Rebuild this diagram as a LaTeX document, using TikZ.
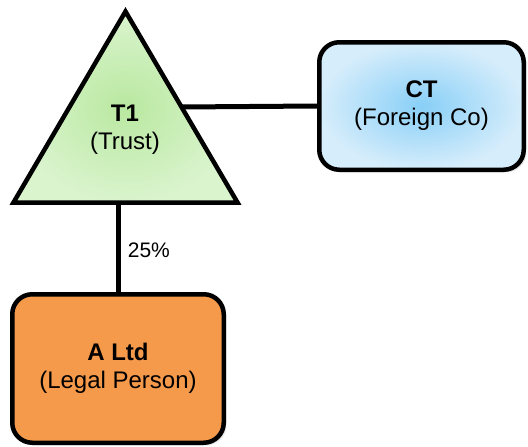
\documentclass[tikz,border=0pt]{standalone}
\usepackage{fontspec}
\setmainfont{Liberation Sans}
\usetikzlibrary{calc}
\usetikzlibrary{shadows}

\definecolor{trustin}{HTML}{B9E8A0}
\definecolor{trustout}{HTML}{DAF4CE}
\definecolor{coin}{HTML}{88CFF7}
\definecolor{coout}{HTML}{D6EDFB}
\definecolor{legal}{HTML}{F5994A}

\begin{document}
\begin{tikzpicture}[x=1pt,y=-1pt,
    box/.style={draw, line width=4.5pt, rounded corners=20pt, align=center,
        font=\fontsize{24}{28}\selectfont, drop shadow={opacity=0.2}},
    link/.style={line width=5pt}]
    \useasboundingbox (0,0) rectangle (528,447);
    \coordinate (t1top) at (125.5,11.5);
    \coordinate (t1left) at (13.5,202.5);
    \coordinate (t1right) at (237.5,202.5);
    % trust triangle
    \draw[line width=4.5pt, inner color=trustin, outer color=trustout, drop shadow={opacity=0.2}]
        (t1top) -- (t1right) -- (t1left) -- cycle;
    \node[align=center, font=\fontsize{24}{28}\selectfont] (t1) at (125,130) {\textbf{T1}\\(Trust)};
    \node[box, minimum width=204.5pt, minimum height=127.5pt, inner color=coin, outer color=coout]
        (ct) at (421.5,106) {\textbf{CT}\\(Foreign Co)};
    \node[box, minimum width=211.5pt, minimum height=148.5pt, fill=legal]
        (altd) at (118,368.5) {\textbf{A Ltd}\\(Legal Person)};
    \draw[link] ($(t1top)!0.5!(t1right)$) -- (ct.west);
    \draw[link] (altd.north) -- (altd.north |- t1left)
        node[midway, right, xshift=4pt, yshift=-3pt, font=\fontsize{21}{24}\selectfont] {25\%};
\end{tikzpicture}
\end{document}
